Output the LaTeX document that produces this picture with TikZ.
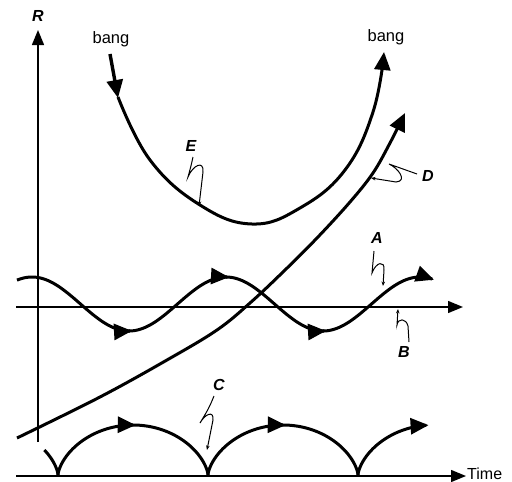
\documentclass[tikz,border=0pt]{standalone}
\usepackage{fontspec}
\setmainfont{Liberation Sans}
\usetikzlibrary{arrows.meta}
\begin{document}
\begin{tikzpicture}[x=1pt,y=-1pt,
  thickcurve/.style={line width=3pt},
  tipped/.style={thickcurve,-{Triangle[length=18pt,width=16pt]}},
  axisline/.style={line width=1.4pt,-{Triangle[length=15pt,width=12pt]}},
  ptr/.style={line width=1pt,-{Stealth[length=4.5pt,width=3.5pt]}},
  lab/.style={font=\fontsize{16}{16}\selectfont\bfseries\itshape,inner sep=0pt},
  word/.style={font=\fontsize{16.5}{16.5}\selectfont,inner sep=0pt}]
\useasboundingbox (0,0) rectangle (512,482);
% axes
\coordinate (Rbot) at (38,442);
\coordinate (Rtop) at (38,30);
\draw[axisline] (Rbot) -- (Rtop);
\node[lab] (R) at (38,16) {R};
\coordinate (Tl) at (16,476);
\coordinate (Tr) at (466,476);
\draw[axisline] (Tl) -- (Tr);
\node[word,anchor=west,font=\fontsize{16}{16}\selectfont] (time) at (467,474) {Time};
\coordinate (Bl) at (16,307);
\coordinate (Br) at (463,307);
\draw[axisline] (Bl) -- (Br);
% wave A
\draw[tipped] plot[domain=17:132,samples=60] (\x,{304-27*cos(1.85567*(\x-32))});
\draw[tipped] plot[domain=129:229,samples=60] (\x,{304-27*cos(1.85567*(\x-32))});
\draw[tipped] plot[domain=226:326,samples=60] (\x,{304-27*cos(1.85567*(\x-32))});
\draw[tipped] plot[domain=323:434,samples=60] (\x,{304-27*cos(1.85567*(\x-32))});
% curve D
\draw[tipped] plot[smooth,tension=0.6] coordinates {(17,438) (100,397) (167,360) (217,330) (250,303) (283,272) (317,238) (350,202) (373,173) (390,143) (405,113)};
% curve E
\node[word] (bangL) at (111,39) {bang};
\node[word] (bangR) at (386,37) {bang};
\coordinate (Etop) at (110,54);
\coordinate (Estart) at (118,98);
\draw[tipped,line width=3.4pt] (Etop) -- (Estart);
\draw[tipped] plot[smooth,tension=0.7] coordinates {(118,97) (150,160) (200,205) (252,224) (300,208) (345,170) (373,112) (384,52)};
% curve C (cycloid arches)
\draw[thickcurve] plot[domain=4.712:6.283,samples=40,variable=\t] ({-92+23.87*(\t-sin(\t r))},{475-25*(1-cos(\t r))});
\draw[tipped] plot[domain=0:3.2,samples=60,variable=\t] ({58+23.87*(\t-sin(\t r))},{475-25*(1-cos(\t r))});
\draw[thickcurve] plot[domain=3.1416:6.283,samples=60,variable=\t] ({58+23.87*(\t-sin(\t r))},{475-25*(1-cos(\t r))});
\draw[tipped] plot[domain=0:3.2,samples=60,variable=\t] ({208+23.87*(\t-sin(\t r))},{475-25*(1-cos(\t r))});
\draw[thickcurve] plot[domain=3.1416:6.283,samples=60,variable=\t] ({208+23.87*(\t-sin(\t r))},{475-25*(1-cos(\t r))});
\draw[tipped] plot[domain=0:3.05,samples=60,variable=\t] ({358+23.87*(\t-sin(\t r))},{475-25*(1-cos(\t r))});
% labels and pointers
\node[lab] (E) at (191,146) {E};
\coordinate (Et) at (199,206);
\draw[ptr] (193,157) .. controls (191,166) .. (188,177) .. controls (193,165) and (204,160) .. (203,172) -- (Et);
\node[lab] (D) at (428,176) {D};
\coordinate (Dt) at (371,178);
\draw[ptr] (417,174) -- (389,164) .. controls (398,168) and (408,181) .. (396,182) -- (Dt);
\node[lab] (A) at (377,238) {A};
\coordinate (At) at (383,286);
\draw[ptr] (374,251) .. controls (373,262) .. (372,273) .. controls (376,262) and (385,260) .. (384,270) -- (At);
\node[lab] (B) at (404,352) {B};
\coordinate (Bt) at (398,309);
\draw[ptr] (409,342) .. controls (409,334) .. (408,326) .. controls (406,318) and (398,318) .. (397,325) -- (Bt);
\node[lab] (C) at (219,385) {C};
\coordinate (Ct) at (207,450);
\draw[ptr] (214,396) .. controls (209,408) .. (200,423) .. controls (205,414) and (214,410) .. (213,420) -- (Ct);
\end{tikzpicture}
\end{document}
